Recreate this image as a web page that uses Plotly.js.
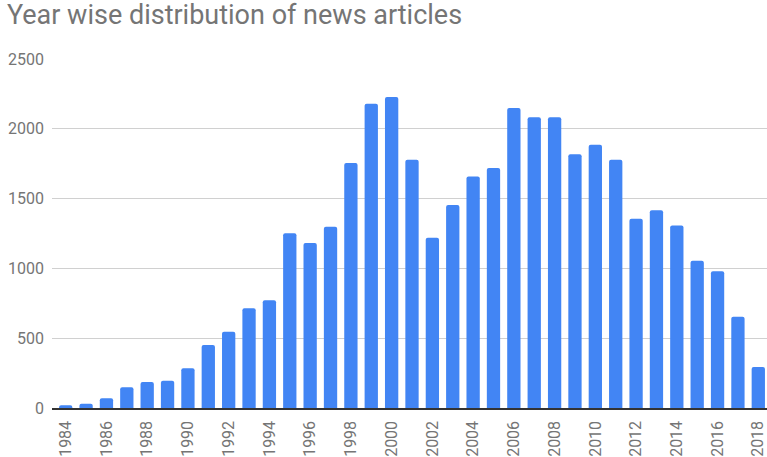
<!DOCTYPE html>
<html>
<head>
<meta charset="utf-8">
<script src="https://cdn.plot.ly/plotly-3.0.1.min.js"></script>
<style>html,body{margin:0;padding:0;background:#fff;}#chart{width:767px;height:457px;}</style>
</head>
<body>
<div id="chart"></div>
<script>
const years = [1984,1985,1986,1987,1988,1989,1990,1991,1992,1993,1994,1995,1996,1997,1998,1999,2000,2001,2002,2003,2004,2005,2006,2007,2008,2009,2010,2011,2012,2013,2014,2015,2016,2017,2018];
const articles = [20,30,69,148,186,196,284,451,547,714,771,1251,1182,1299,1755,2180,2228,1779,1220,1454,1659,1719,2149,2082,2082,1817,1886,1779,1356,1416,1308,1055,979,654,294];
const tickYears = [1984,1986,1988,1990,1992,1994,1996,1998,2000,2002,2004,2006,2008,2010,2012,2014,2016,2018];
const tickLabels = tickYears.map(String);

const trace = {
  type: 'bar',
  x: years,
  y: articles,
  marker: {color: '#4285f4', cornerradius: 2},
  hoverinfo: 'x+y'
};

const layout = {
  width: 767, height: 457,
  margin: {l: 52, r: 0, t: 59, b: 49},
  paper_bgcolor: '#fff', plot_bgcolor: '#fff',
  font: {family: 'Roboto, Arial, sans-serif', color: '#757575'},
  title: {text: 'Year wise distribution of news articles', x: 0.009, xanchor: 'left', xref: 'container',
          y: 0.988, yanchor: 'top', yref: 'container',
          font: {size: 27, color: '#757575', family: 'Roboto, Arial, sans-serif'}},
  bargap: 0.347,
  showlegend: false,
  xaxis: {
    type: 'linear',
    range: [1983.327, 2018.427],
    tickmode: 'array', tickvals: tickYears, ticktext: tickLabels,
    tickangle: -90,
    tickfont: {size: 16, color: '#757575'},
    ticklabelstandoff: 5,
    ticklabeloverflow: 'allow',
    showgrid: false,
    showline: true, linecolor: '#333', linewidth: 1.5,
    ticks: '', zeroline: false, fixedrange: true
  },
  yaxis: {
    range: [0, 2500],
    tickvals: [0,500,1000,1500,2000,2500],
    tickfont: {size: 16, color: '#757575'},
    ticklabelstandoff: 7,
    gridcolor: '#d0d0d0', gridwidth: 1,
    zeroline: false, showline: false, ticks: '',
    fixedrange: true
  }
};

Plotly.newPlot('chart', [trace], layout, {displayModeBar: false, staticPlot: true});
</script>
</body>
</html>
